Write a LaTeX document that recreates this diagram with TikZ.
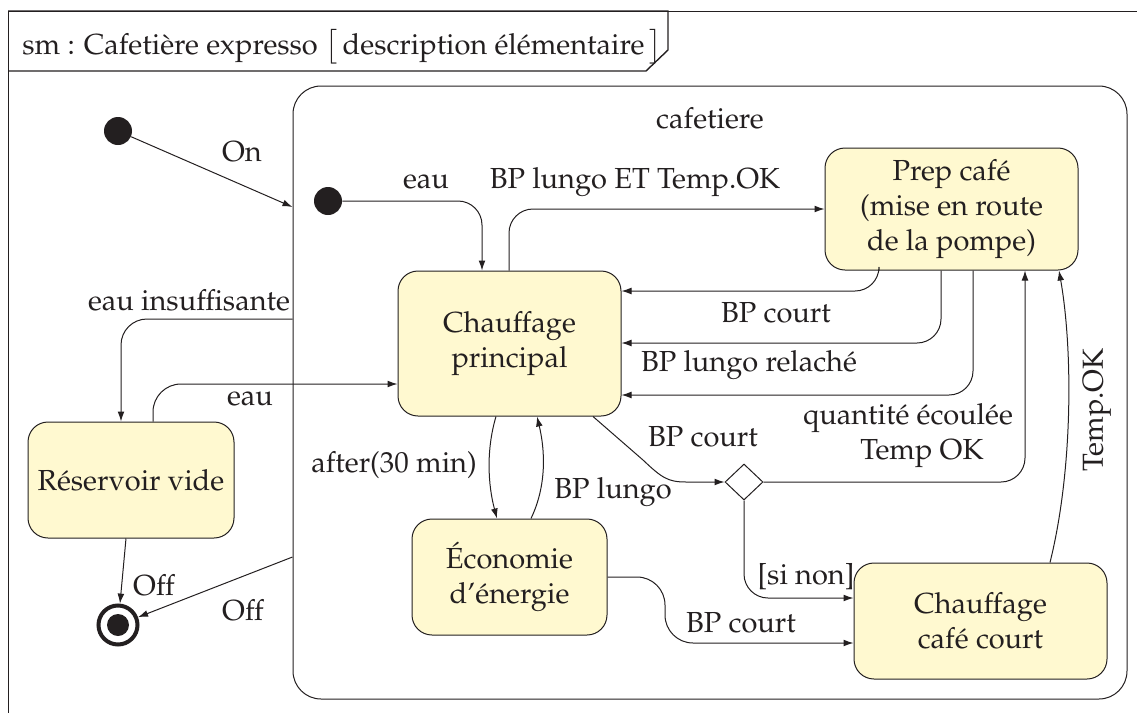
\documentclass[tikz,border=0pt]{standalone}
\usepackage[T1]{fontenc}
\usepackage{mathpazo}
\usetikzlibrary{arrows.meta,shapes.geometric}
\definecolor{stfill}{RGB}{255,249,208}
\definecolor{ink}{RGB}{35,31,32}
\begin{document}
\begin{tikzpicture}[x=0.5pt,y=-0.5pt,
  every node/.style={font=\fontsize{14.5}{17.5}\selectfont, text=ink},
  state/.style={draw=ink, line width=0.5pt, fill=stfill, rounded corners=10pt, align=center, inner sep=0pt},
  tr/.style={draw=ink, line width=0.5pt, -{Latex[length=5pt,width=3.4pt]}, rounded corners=12pt},
  lbl/.style={inner sep=0pt, align=center},
  dot/.style={circle, fill=ink, minimum size=14pt, inner sep=0pt}]
\useasboundingbox (0,0) rectangle (1137,713);
% outer frame and title tab
\draw[ink, line width=0.5pt] (1137,11) -- (8,11) -- (8,713);
\draw[ink, line width=0.7pt] (8,11) -- (668,11) -- (668,50) -- (646,71) -- (8,71);
\node[anchor=west, inner sep=0pt] (title) at (22,47) {sm : Cafeti\`ere expresso $\big[$\,description \'el\'ementaire\,$\big]$};
% composite state
\node[draw=ink, line width=0.5pt, rounded corners=14pt, minimum width=417pt, minimum height=306.5pt, inner sep=0pt] (caf) at (710,392.5) {};
\node[lbl] (cafl) at (710,118) {cafetiere};
% states
\node[state, minimum width=111.5pt, minimum height=72.5pt] (cp) at (509.5,343.5) {Chauffage\\principal};
\node[state, minimum width=126.5pt, minimum height=61pt] (pc) at (951.5,209) {Prep caf\'e\\(mise en route\\de la pompe)};
\node[state, minimum width=126.5pt, minimum height=58pt] (ccc) at (980.5,621) {Chauffage\\caf\'e court};
\node[state, minimum width=97.5pt, minimum height=58pt] (eco) at (509.5,577) {\'Economie\\d'\'energie};
\node[state, minimum width=103pt, minimum height=58pt] (rv) at (131,480) {R\'eservoir vide};
\node[diamond, draw=ink, line width=0.5pt, fill=white, minimum width=19pt, minimum height=18pt, inner sep=0pt] (dm) at (744,482) {};
% pseudo states
\node[dot] (i0) at (118,131) {};
\node[dot] (i1) at (328,201) {};
\node[circle, draw=ink, line width=2pt, minimum size=19.5pt, inner sep=0pt] (fin) at (118,625) {};
\node[circle, fill=ink, minimum size=11pt, inner sep=0pt] (finc) at (118,625) {};
% transitions
\draw[tr] (i0) -- (caf.west |- 0,207);
\node[lbl] (l1) at (242,152) {On};
\draw[tr] (i1) -- (482,201) -- (cp.north -| 482,0);
\node[lbl] (l2) at (426,182) {eau};
\draw[tr] (cp.north -| 509,0) -- (pc.west -| 509,0) -- (pc.west);
\node[lbl] (l3) at (635,182) {BP lungo ET Temp.OK};
\draw[tr] (pc.south -| 879,0) -- (879,291) -- (cp.east |- 0,291);
\node[lbl] (l4) at (776,313) {BP court};
\draw[tr] (pc.south -| 941,0) -- (941,343) -- (cp.east |- 0,343);
\node[lbl] (l5) at (749,365) {BP lungo relach\'e};
\draw[tr] (pc.south -| 973,0) -- (973,395) -- (cp.east |- 0,395);
\draw[tr, sharp corners] (cp.south -| 593,0) -- (643,460) .. controls (662,478) and (668,482) .. (686,482) -- (dm.west);
\node[lbl] (l6) at (703,437) {BP court};
\draw[tr] (dm.east) -- (1025,482) -- (pc.south -| 1025,0);
\node[lbl] (l7) at (908,436) {quantit\'e \'ecoul\'ee\\\hspace*{14pt}Temp OK};
\draw[tr] (dm.south) -- (744,598) -- (ccc.west |- 0,598);
\node[lbl] (l8) at (806,577) {[si non]};
\draw[tr] (ccc.north -| 1050,0) .. controls (1073,470) and (1073,350) .. (pc.south -| 1059,0);
\node[lbl, rotate=90] (l9) at (1097,410) {Temp.OK};
\draw[tr] (cp.south -| 496,0) .. controls (486,450) and (488,485) .. (eco.north -| 497,0);
\node[lbl] (l10) at (394,465) {after(30 min)};
\draw[tr] (eco.north -| 531,0) .. controls (547,485) and (545,450) .. (cp.south -| 537,0);
\node[lbl] (l11) at (613,492) {BP lungo};
\draw[tr, rounded corners=14pt] (eco.east |- 0,577) -- (665,577) -- (665,643) -- (ccc.west |- 0,643);
\node[lbl] (l12) at (741,623) {BP court};
\draw[tr, rounded corners=13pt] (caf.west |- 0,319) -- (121,319) -- (rv.north -| 121,0);
\node[lbl] (l13) at (189,300) {eau insuffisante};
\draw[tr, rounded corners=14pt] (rv.north -| 153,0) -- (153,384) -- (cp.west |- 0,384);
\node[lbl] (l14) at (250,399) {eau};
\draw[tr] (rv.south -| 126,0) -- (fin);
\node[lbl] (l15) at (154,585) {Off};
\draw[tr] (caf.west |- 0,557) -- (fin);
\node[lbl] (l16) at (243,610) {Off};
\end{tikzpicture}
\end{document}
